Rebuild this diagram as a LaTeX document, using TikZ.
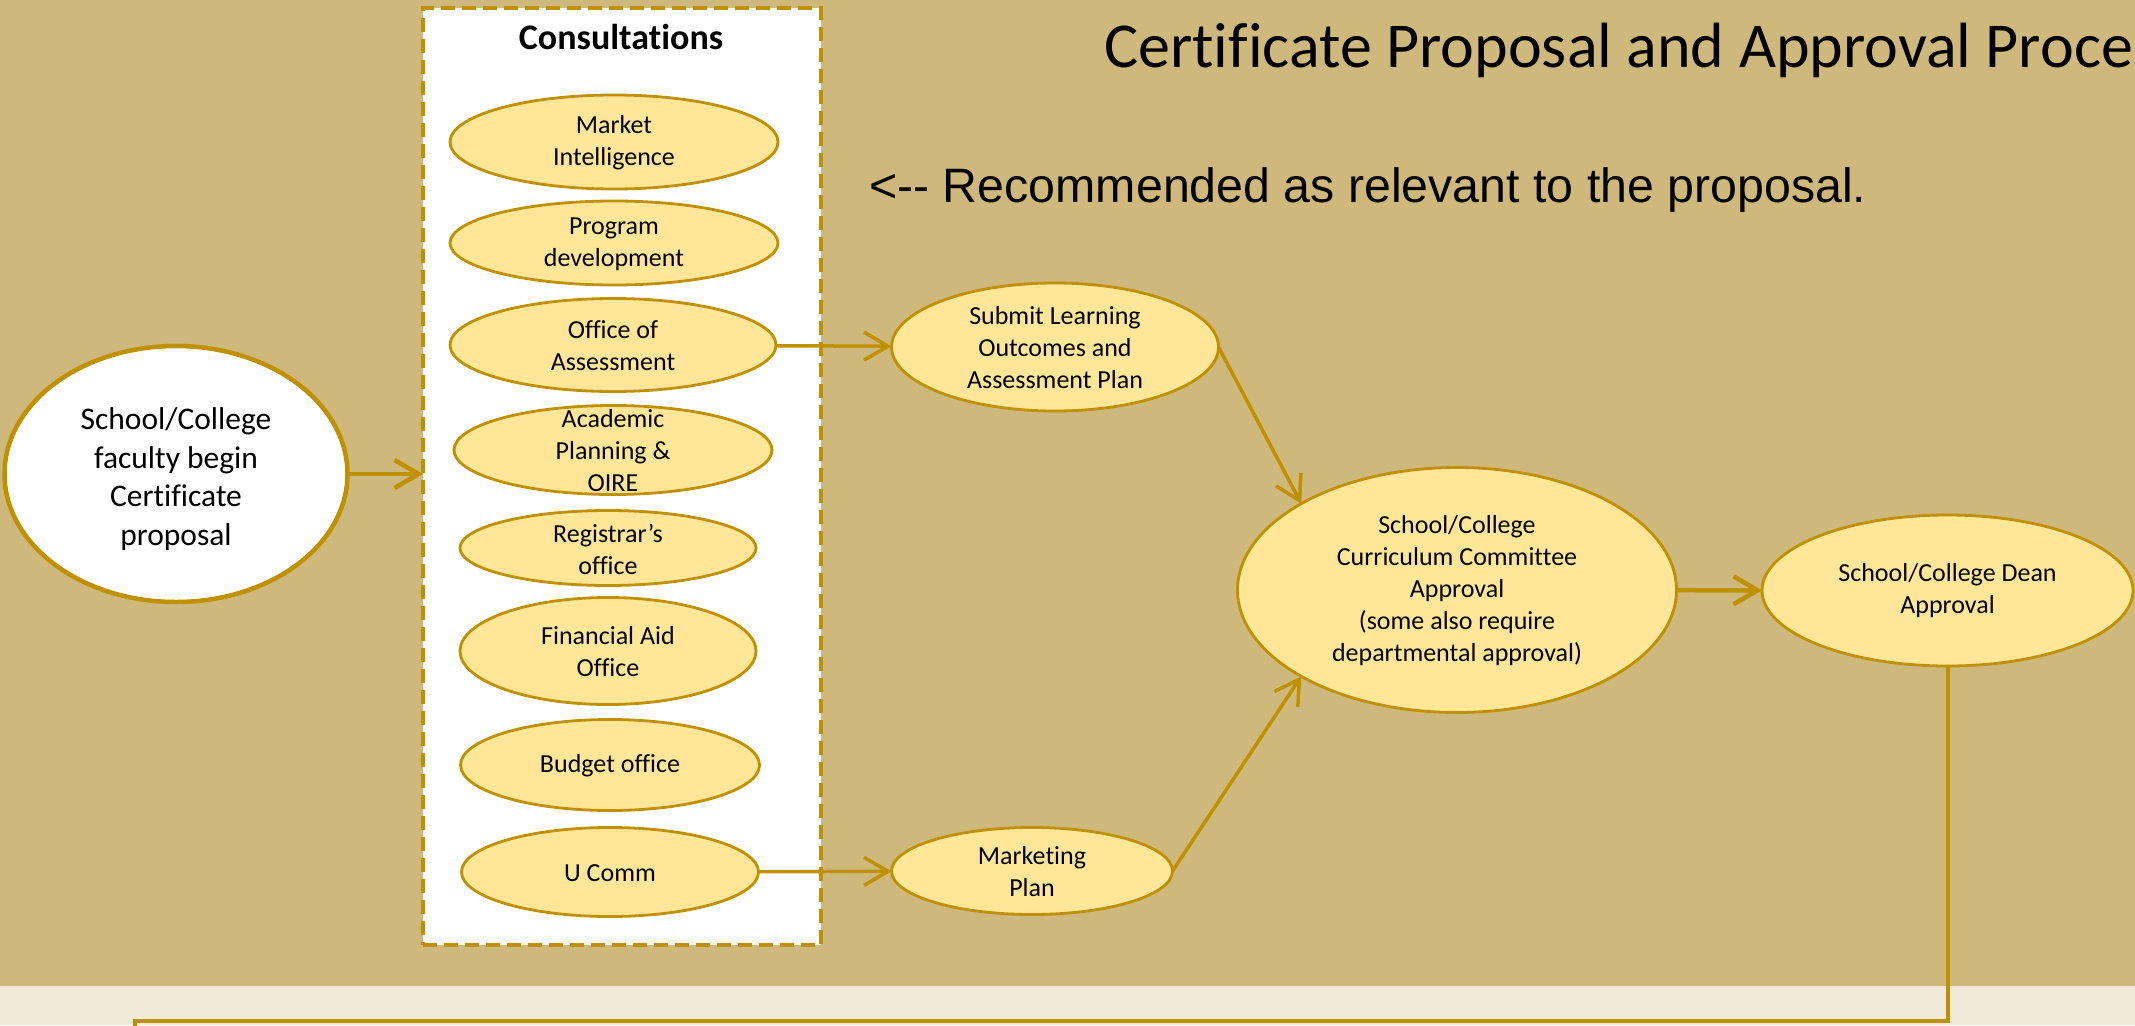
\documentclass[tikz,border=0pt]{standalone}
\usepackage{fontspec}
\setmainfont{Carlito}[Ligatures={NoCommon}]
\newfontfamily\arialf{Liberation Sans}
\usetikzlibrary{arrows.meta,shapes.geometric}
\definecolor{bgtan}{HTML}{CFB87C}
\definecolor{bgband}{HTML}{F1E9D8}
\definecolor{gold}{HTML}{BF9000}
\definecolor{elfill}{HTML}{FFE699}
\begin{document}
\begin{tikzpicture}[x=1pt,y=-1pt,
  el/.style={ellipse, draw=gold, fill=elfill, line width=2.8pt, inner sep=0pt, outer sep=0pt},
  lbl/.style={align=center, font=\fontsize{26}{32}\selectfont, inner sep=0pt},
  arr/.style={draw=gold, line width=3.5pt, -{Straight Barb[length=24pt,width=28pt]}},
  conn/.style={draw=gold, line width=4pt, line join=miter},
]
\useasboundingbox (0,0) rectangle (2135,1025);
\clip (0,0) rectangle (2135,1025);
\fill[bgtan] (0,0) rectangle (2135,986);
\fill[bgband] (0,986) rectangle (2135,1025);

% consultations box
\node[draw=gold, fill=white, dash pattern=on 14pt off 7pt, line width=3.5pt,
      minimum width=398pt, minimum height=937pt, inner sep=0pt, outer sep=0pt] (cbox) at (622,476.5) {};
\node[font=\fontsize{36}{40}\selectfont\bfseries, inner sep=0pt, anchor=base] (ctitle) at (621,50) {Consultations};

% start node
\node[el, fill=white, line width=4.5pt, minimum width=343pt, minimum height=256pt] (start) at (176,474) {};
\node[align=center, font=\fontsize{31.5}{38.5}\selectfont, inner sep=0pt] (startt) at (176,479) {School/College\\faculty begin\\Certificate\\proposal};

% consultation ellipses
\node[el, minimum width=328pt, minimum height=94pt] (mi) at (614,142) {};
\node[lbl] (mit) at (614,143) {Market\\Intelligence};
\node[el, minimum width=328pt, minimum height=84pt] (pd) at (614,243) {};
\node[lbl] (pdt) at (614,244) {Program\\development};
\node[el, minimum width=326pt, minimum height=93pt] (oa) at (613,345) {};
\node[lbl] (oat) at (613,346) {Office of\\Assessment};
\node[el, minimum width=318pt, minimum height=89pt] (ap) at (613,450) {};
\node[lbl] (apt) at (613,451) {Academic\\Planning \&\\OIRE};
\node[el, minimum width=296pt, minimum height=75pt] (ro) at (608,548) {};
\node[lbl] (rot) at (608,549) {Registrar’s\\office};
\node[el, minimum width=296pt, minimum height=107pt] (fa) at (608,651) {};
\node[lbl] (fat) at (608,652) {Financial Aid\\Office};
\node[el, minimum width=299pt, minimum height=91pt] (bo) at (610,765) {};
\node[lbl] (bot) at (610,766) {Budget office};
\node[el, minimum width=297pt, minimum height=89pt] (uc) at (610,872) {};
\node[lbl] (uct) at (610,873) {U Comm};

% right side nodes
\node[el, minimum width=327pt, minimum height=128pt] (sl) at (1055,347) {};
\node[lbl] (slt) at (1055,348) {Submit Learning\\Outcomes and\\Assessment Plan};
\node[el, minimum width=281pt, minimum height=87pt] (mp) at (1032,871) {};
\node[lbl] (mpt) at (1032,872) {Marketing\\Plan};
\node[el, minimum width=439pt, minimum height=245pt] (cc) at (1457,590) {};
\node[lbl] (cct) at (1457,591) {School/College\\Curriculum Committee\\Approval\\(some also require\\departmental approval)};
\node[el, minimum width=371pt, minimum height=151pt] (dn) at (1947.5,590.5) {};
\node[lbl] (dnt) at (1947.5,591) {School/College Dean\\Approval};

% texts
\node[anchor=base west, font=\fontsize{64}{70}\selectfont, inner sep=0pt] (title) at (1104,67) {Certificate Proposal and Approval Proce};
\node[anchor=base west, font=\arialf\fontsize{48.3}{56}\selectfont, inner sep=0pt] (rec) at (869,202) {<-{}- Recommended as relevant to the proposal.};

% connectors
\draw[arr, line width=4.5pt] (start.east) -- (start.east -| cbox.west);
\draw[arr] (oa) -- (sl);
\draw[arr] (uc) -- (mp);
\draw[arr] (sl.east) -- (cc.151);
\draw[arr] (mp.east) -- (cc.209);
\draw[arr, line width=4.5pt] (cc) -- (dn);
\coordinate (cl) at (135,1021);
\coordinate (cd) at (135,1040);
\draw[conn] (dn.south) |- (cl) -- (cd);
\end{tikzpicture}
\end{document}
